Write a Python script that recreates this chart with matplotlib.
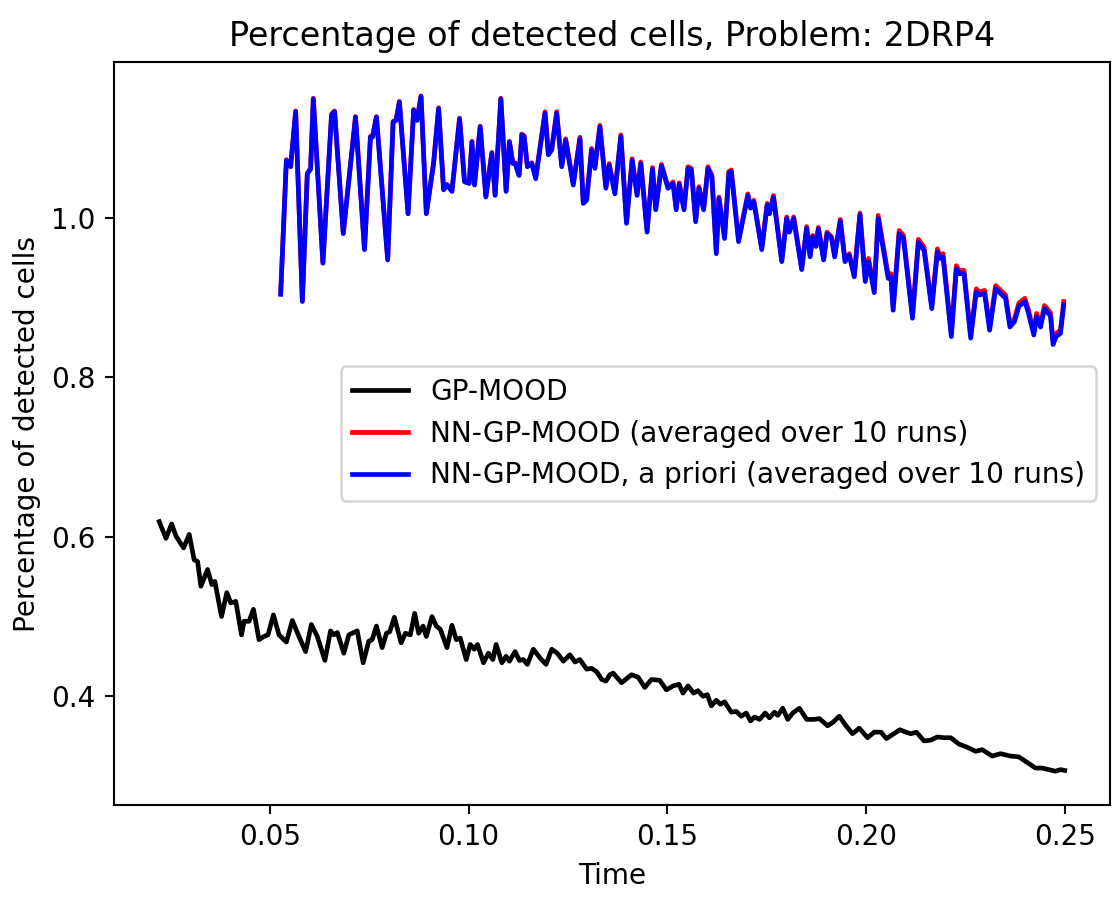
import matplotlib
matplotlib.use("Agg")
import matplotlib.pyplot as plt

title = "Percentage of detected cells, Problem: 2DRP4"
xlabel = "Time"
ylabel = "Percentage of detected cells"
labels = ["GP-MOOD", "NN-GP-MOOD (averaged over 10 runs)",
          "NN-GP-MOOD, a priori (averaged over 10 runs)"]

gp_time = [
    0.02220, 0.02388, 0.02531, 0.02639, 0.02832, 0.02973, 0.03098, 0.03184, 0.03266, 0.03435,
    0.03542, 0.03618, 0.03786, 0.03919, 0.04019, 0.04145, 0.04288, 0.04353, 0.04478, 0.04589,
    0.04729, 0.04855, 0.04955, 0.05090, 0.05231, 0.05417, 0.05567, 0.05733, 0.05901, 0.06044,
    0.06194, 0.06385, 0.06528, 0.06611, 0.06696, 0.06862, 0.06987, 0.07198, 0.07348, 0.07489,
    0.07574, 0.07682, 0.07825, 0.07933, 0.08016, 0.08133, 0.08302, 0.08410, 0.08535, 0.08643,
    0.08743, 0.08854, 0.08936, 0.09079, 0.09187, 0.09287, 0.09456, 0.09581, 0.09689, 0.09789,
    0.09940, 0.10040, 0.10141, 0.10223, 0.10374, 0.10499, 0.10610, 0.10692, 0.10835, 0.10943,
    0.11026, 0.11169, 0.11277, 0.11377, 0.11478, 0.11628, 0.11796, 0.11947, 0.12090, 0.12230,
    0.12381, 0.12549, 0.12674, 0.12800, 0.12968, 0.13093, 0.13219, 0.13349, 0.13452, 0.13552,
    0.13635, 0.13846, 0.14097, 0.14262, 0.14431, 0.14598, 0.14807, 0.14975, 0.15141, 0.15291,
    0.15391, 0.15517, 0.15660, 0.15768, 0.15893, 0.16004, 0.16104, 0.16229, 0.16330, 0.16438,
    0.16606, 0.16731, 0.16856, 0.16982, 0.17090, 0.17190, 0.17316, 0.17459, 0.17567, 0.17692,
    0.17775, 0.17900, 0.18026, 0.18151, 0.18319, 0.18502, 0.18696, 0.18821, 0.19029, 0.19155,
    0.19323, 0.19491, 0.19656, 0.19824, 0.20033, 0.20201, 0.20369, 0.20509, 0.20660, 0.20846,
    0.20996, 0.21121, 0.21262, 0.21455, 0.21623, 0.21789, 0.21957, 0.22125, 0.22333, 0.22541,
    0.22752, 0.22918, 0.23168, 0.23379, 0.23630, 0.23838, 0.24047, 0.24257, 0.24423, 0.24591,
    0.24759, 0.24885, 0.24992,
]
gp_mood = [
    0.619, 0.598, 0.616, 0.601, 0.586, 0.603, 0.571, 0.569, 0.538, 0.559,
    0.540, 0.544, 0.500, 0.530, 0.517, 0.519, 0.477, 0.494, 0.494, 0.509,
    0.471, 0.475, 0.477, 0.502, 0.477, 0.468, 0.495, 0.475, 0.456, 0.490,
    0.475, 0.445, 0.482, 0.477, 0.480, 0.454, 0.477, 0.482, 0.442, 0.469,
    0.471, 0.488, 0.461, 0.479, 0.481, 0.499, 0.467, 0.479, 0.477, 0.504,
    0.479, 0.488, 0.475, 0.500, 0.488, 0.484, 0.461, 0.489, 0.471, 0.473,
    0.446, 0.465, 0.459, 0.465, 0.442, 0.454, 0.446, 0.465, 0.442, 0.450,
    0.444, 0.456, 0.445, 0.446, 0.440, 0.459, 0.448, 0.440, 0.459, 0.454,
    0.444, 0.452, 0.443, 0.446, 0.434, 0.435, 0.431, 0.421, 0.419, 0.427,
    0.429, 0.417, 0.427, 0.424, 0.411, 0.421, 0.420, 0.408, 0.413, 0.415,
    0.404, 0.413, 0.404, 0.407, 0.400, 0.402, 0.388, 0.395, 0.390, 0.393,
    0.380, 0.381, 0.375, 0.379, 0.369, 0.374, 0.371, 0.379, 0.373, 0.380,
    0.376, 0.385, 0.371, 0.379, 0.385, 0.371, 0.371, 0.372, 0.363, 0.367,
    0.375, 0.363, 0.353, 0.360, 0.348, 0.355, 0.355, 0.347, 0.352, 0.358,
    0.355, 0.353, 0.355, 0.344, 0.345, 0.349, 0.348, 0.348, 0.340, 0.336,
    0.331, 0.333, 0.325, 0.328, 0.325, 0.324, 0.317, 0.310, 0.310, 0.308,
    0.306, 0.308, 0.307,
]

nn_time = [
    0.05273, 0.05417, 0.05524, 0.05650, 0.05818, 0.05943, 0.06026, 0.06094, 0.06335, 0.06553,
    0.06628, 0.06847, 0.07155, 0.07381, 0.07531, 0.07582, 0.07682, 0.07965, 0.08101, 0.08176,
    0.08259, 0.08477, 0.08618, 0.08703, 0.08803, 0.08936, 0.09119, 0.09245, 0.09370, 0.09456,
    0.09581, 0.09772, 0.09897, 0.10015, 0.10083, 0.10148, 0.10291, 0.10434, 0.10584, 0.10667,
    0.10810, 0.10943, 0.11026, 0.11111, 0.11169, 0.11269, 0.11337, 0.11395, 0.11478, 0.11588,
    0.11688, 0.11922, 0.12005, 0.12090, 0.12215, 0.12341, 0.12441, 0.12632, 0.12800, 0.12883,
    0.12968, 0.13093, 0.13176, 0.13302, 0.13452, 0.13535, 0.13678, 0.13829, 0.13971, 0.14112,
    0.14237, 0.14330, 0.14488, 0.14624, 0.14706, 0.14850, 0.15015, 0.15141, 0.15221, 0.15296,
    0.15416, 0.15517, 0.15602, 0.15710, 0.15793, 0.15911, 0.16019, 0.16119, 0.16229, 0.16295,
    0.16437, 0.16545, 0.16606, 0.16789, 0.17022, 0.17090, 0.17173, 0.17373, 0.17509, 0.17567,
    0.17667, 0.17875, 0.18001, 0.18068, 0.18176, 0.18377, 0.18502, 0.18588, 0.18653, 0.18738,
    0.18796, 0.18929, 0.19014, 0.19130, 0.19205, 0.19348, 0.19466, 0.19573, 0.19699, 0.19842,
    0.19975, 0.20058, 0.20201, 0.20301, 0.20552, 0.20620, 0.20677, 0.20828, 0.20936, 0.21162,
    0.21312, 0.21455, 0.21648, 0.21789, 0.21849, 0.21932, 0.22140, 0.22266, 0.22333, 0.22459,
    0.22627, 0.22767, 0.22835, 0.22978, 0.23103, 0.23254, 0.23379, 0.23505, 0.23613, 0.23731,
    0.23838, 0.23989, 0.24071, 0.24215, 0.24283, 0.24383, 0.24483, 0.24634, 0.24699, 0.24774,
    0.24885, 0.24967,
]
nn_gp_mood = [
    0.905, 1.073, 1.065, 1.134, 0.896, 1.056, 1.062, 1.150, 0.944, 1.130,
    1.134, 0.981, 1.127, 0.961, 1.102, 1.102, 1.127, 0.948, 1.121, 1.123,
    1.146, 1.006, 1.136, 1.123, 1.153, 1.006, 1.069, 1.138, 1.036, 1.042,
    1.034, 1.125, 1.046, 1.044, 1.096, 1.042, 1.115, 1.027, 1.082, 1.029,
    1.150, 1.034, 1.096, 1.069, 1.069, 1.054, 1.105, 1.103, 1.065, 1.069,
    1.051, 1.133, 1.081, 1.087, 1.133, 1.066, 1.099, 1.043, 1.101, 1.020,
    1.024, 1.087, 1.064, 1.116, 1.039, 1.068, 1.032, 1.104, 0.995, 1.074,
    1.030, 1.070, 0.984, 1.063, 1.012, 1.067, 1.039, 1.045, 1.012, 1.044,
    1.012, 1.064, 1.062, 0.997, 1.039, 1.012, 1.064, 1.053, 0.957, 1.026,
    0.976, 1.058, 1.060, 0.972, 1.030, 1.014, 1.022, 0.962, 1.018, 1.007,
    1.028, 0.947, 1.001, 0.984, 1.001, 0.937, 0.989, 0.953, 0.978, 0.966,
    0.988, 0.949, 0.982, 0.976, 0.953, 0.998, 0.947, 0.955, 0.928, 1.006,
    0.924, 0.949, 0.910, 1.003, 0.928, 0.930, 0.888, 0.984, 0.978, 0.878,
    0.973, 0.963, 0.890, 0.961, 0.953, 0.955, 0.855, 0.940, 0.934, 0.934,
    0.853, 0.911, 0.907, 0.909, 0.863, 0.915, 0.909, 0.903, 0.867, 0.874,
    0.893, 0.899, 0.886, 0.857, 0.880, 0.867, 0.890, 0.881, 0.845, 0.855,
    0.859, 0.895,
]
nn_gp_mood_apriori = [
    0.904, 1.072, 1.064, 1.133, 0.895, 1.055, 1.061, 1.149, 0.943, 1.129,
    1.133, 0.980, 1.126, 0.960, 1.101, 1.101, 1.126, 0.947, 1.120, 1.122,
    1.145, 1.005, 1.135, 1.122, 1.152, 1.005, 1.068, 1.137, 1.035, 1.041,
    1.033, 1.124, 1.045, 1.043, 1.095, 1.041, 1.114, 1.026, 1.081, 1.028,
    1.149, 1.033, 1.095, 1.068, 1.068, 1.053, 1.104, 1.102, 1.064, 1.068,
    1.049, 1.131, 1.079, 1.085, 1.131, 1.064, 1.097, 1.041, 1.099, 1.018,
    1.022, 1.085, 1.062, 1.114, 1.037, 1.066, 1.030, 1.102, 0.993, 1.072,
    1.028, 1.068, 0.982, 1.061, 1.010, 1.065, 1.037, 1.043, 1.010, 1.042,
    1.010, 1.062, 1.060, 0.995, 1.037, 1.010, 1.062, 1.051, 0.955, 1.024,
    0.974, 1.056, 1.058, 0.970, 1.028, 1.012, 1.020, 0.960, 1.016, 1.005,
    1.026, 0.945, 0.999, 0.982, 0.999, 0.935, 0.987, 0.951, 0.976, 0.964,
    0.986, 0.947, 0.980, 0.974, 0.951, 0.996, 0.945, 0.953, 0.926, 1.004,
    0.920, 0.945, 0.906, 0.999, 0.924, 0.926, 0.884, 0.980, 0.974, 0.874,
    0.969, 0.959, 0.886, 0.957, 0.949, 0.951, 0.851, 0.936, 0.930, 0.930,
    0.849, 0.907, 0.903, 0.905, 0.859, 0.911, 0.905, 0.899, 0.863, 0.870,
    0.889, 0.895, 0.882, 0.853, 0.876, 0.863, 0.886, 0.877, 0.841, 0.851,
    0.855, 0.891,
]

plt.rcParams['font.family'] = ['DejaVu Sans']
plt.rcParams['font.size'] = 10.7

fig = plt.figure(figsize=(1112 / 187.5, 900 / 187.5), dpi=187.5)
ax = fig.add_axes([114 / 1112, 95 / 900, (1110 - 114) / 1112, (805 - 62) / 900])

lw = 1.8
ax.plot(gp_time, gp_mood, color='black', lw=lw, label=labels[0])
ax.plot(nn_time, nn_gp_mood, color='red', lw=lw, label=labels[1])
ax.plot(nn_time, nn_gp_mood_apriori, color='blue', lw=lw, label=labels[2])

ax.set_yticks([0.4, 0.6, 0.8, 1.0])
ax.set_title(title, fontsize=12.8)
ax.set_xlabel(xlabel)
ax.set_ylabel(ylabel)
ax.legend(loc='center right')

fig.savefig("out.png", dpi=187.5)
